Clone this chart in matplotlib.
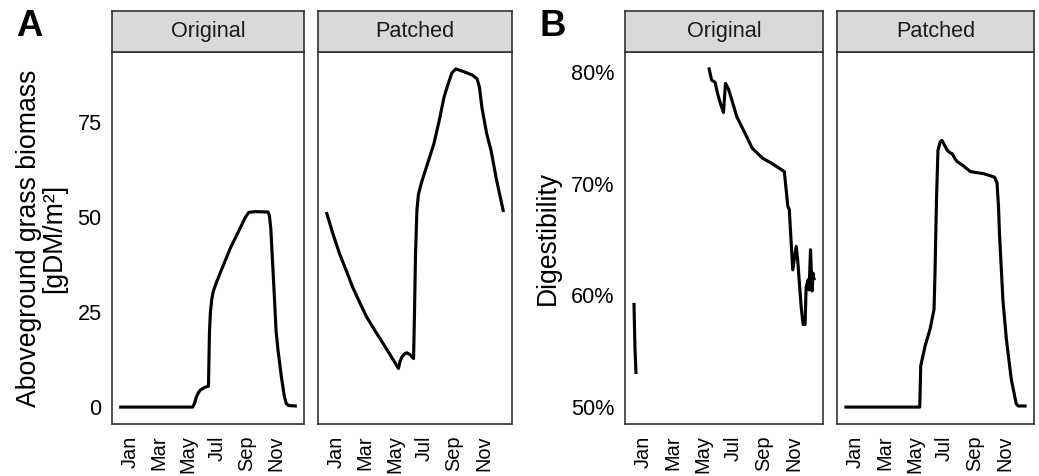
import numpy as np
import matplotlib
matplotlib.use("Agg")
from matplotlib import pyplot as plt

plt.rcParams['font.family'] = ['Liberation Sans', 'DejaVu Sans']

# day of year (0 = Jan 1) and values
biomass_orig_doy = [0, 150, 154, 157, 162, 166, 175, 183, 185, 187, 190, 193, 200, 208,
                    229, 250, 260, 267, 280, 307, 310, 313, 318, 324, 328, 335, 341, 345,
                    350, 364]
biomass_orig_val = [0, 0, 1, 2.4, 3.8, 4.5, 5.2, 5.5, 19.5, 25, 28.5, 30.5, 33, 35.5,
                    42, 47.4, 50, 51.3, 51.5, 51.4, 50.5, 47, 35, 20, 15, 8, 3, 1,
                    0.4, 0.3]

biomass_patch_doy = [0, 13, 26, 40, 53, 68, 82, 100, 116, 132, 148, 151, 155, 160, 165,
                     172, 179, 181, 183, 186, 189, 195, 200, 210, 221, 232, 242, 250,
                     258, 266, 280, 300, 310, 315, 320, 330, 339, 350, 364]
biomass_patch_val = [51, 45.5, 40.5, 36, 31.7, 27.5, 23.8, 20, 16.8, 13.5, 10.2, 12, 13.2,
                     14, 14.3, 13.8, 12.8, 25, 40, 52, 56, 59, 61, 65, 69.4, 75.5, 81.7,
                     85, 88, 89.1, 88.5, 87.5, 86.5, 84.3, 79, 72, 67.6, 60, 51.8]

digest_orig_doy = [0, 2, 4, 5, 152, 157, 164, 169, 174, 181, 185, 191, 198, 208, 226,
                   239, 260, 280, 304, 311, 314, 321, 328, 331, 338, 342, 346, 348, 352,
                   354, 357, 360, 362, 364]
digest_orig_val = [59.2, 55.2, 53.1, np.nan, 80.3, 79.3, 79.1, 78.1, 77.3, 76.4, 79.0,
                   78.5, 77.5, 76.0, 74.4, 73.2, 72.3, 71.8, 71.1, 68.0, 67.7, 62.3,
                   64.4, 63.2, 59.0, 57.4, 57.4, 60.7, 61.4, 60.5, 64.1, 60.4, 62.0, 61.5]

digest_patch_doy = [0, 150, 152, 161, 171, 179, 181, 184, 187, 191, 195, 200, 206, 211,
                    216, 221, 226, 236, 253, 281, 302, 307, 310, 312, 319, 326, 336, 346,
                    350, 364]
digest_patch_val = [50, 50, 53.7, 55.5, 57.0, 58.75, 62, 68.6, 73.0, 73.7, 73.9, 73.5,
                    73.0, 72.8, 72.7, 72.3, 72.0, 71.7, 71.1, 70.9, 70.6, 70.1, 68, 65.6,
                    59.6, 56.1, 52.5, 50.3, 50.1, 50.1]

month_doy = [0, 59, 120, 181, 243, 304]
month_labels = ['Jan', 'Mar', 'May', 'Jul', 'Sep', 'Nov']
facet_labels = ['Original', 'Patched']

W, H = 1039, 476
fig = plt.figure(figsize=(W / 150, H / 150), dpi=150)

PANEL_TOP, PANEL_BOTTOM, STRIP_TOP = 52, 424, 11
BORDER = '#333333'
SMALL = 10.4


def add_panel(left, right, doy, val, title, ylim, yticks, yticklabels, show_y):
    ax = fig.add_axes([left / W, 1 - PANEL_BOTTOM / H, (right - left) / W,
                       (PANEL_BOTTOM - PANEL_TOP) / H])
    ax.plot(doy, val, color='black', lw=1.5, solid_joinstyle='round')
    ax.set_xlim(-0.05 * 364, 364 * 1.05)
    ax.set_ylim(*ylim)
    ax.set_xticks(month_doy)
    ax.set_xticklabels(month_labels, rotation=90, ha='left', va='top', fontsize=9.6)
    ax.set_yticks(yticks)
    if show_y:
        ax.set_yticklabels(yticklabels, fontsize=SMALL)
    else:
        ax.set_yticklabels([])
    ax.tick_params(axis='x', length=0, pad=5.5)
    ax.tick_params(axis='y', length=0, pad=5)
    for sp in ax.spines.values():
        sp.set_color(BORDER)
        sp.set_linewidth(0.8)
    # facet strip
    sax = fig.add_axes([left / W, 1 - PANEL_TOP / H, (right - left) / W,
                        (PANEL_TOP - STRIP_TOP) / H])
    sax.set_facecolor('#D9D9D9')
    sax.set_xticks([])
    sax.set_yticks([])
    for sp in sax.spines.values():
        sp.set_color(BORDER)
        sp.set_linewidth(0.8)
    sax.text(0.5, 0.5, title, ha='center', va='center', fontsize=SMALL,
             color='#1A1A1A', transform=sax.transAxes)
    return ax


def padded(*series):
    vals = np.concatenate([np.asarray(s, dtype=float) for s in series])
    lo, hi = np.nanmin(vals), np.nanmax(vals)
    pad = 0.05 * (hi - lo)
    return lo - pad, hi + pad


ylim_a = padded(biomass_orig_val, biomass_patch_val)
ylim_b = padded(digest_orig_val, digest_patch_val)

a_ticks = [0, 25, 50, 75]
a_labels = ['0', '25', '50', '75']
b_ticks = [50, 60, 70, 80]
b_labels = ['50%', '60%', '70%', '80%']

add_panel(112, 304, biomass_orig_doy, biomass_orig_val, facet_labels[0],
          ylim_a, a_ticks, a_labels, True)
add_panel(318, 512, biomass_patch_doy, biomass_patch_val, facet_labels[1],
          ylim_a, a_ticks, a_labels, False)
add_panel(625, 823, digest_orig_doy, digest_orig_val, facet_labels[0],
          ylim_b, b_ticks, b_labels, True)
add_panel(837, 1034, digest_patch_doy, digest_patch_val, facet_labels[1],
          ylim_b, b_ticks, b_labels, False)

mid_y = 1 - (PANEL_TOP + PANEL_BOTTOM) / 2 / H
fig.text(42 / W, mid_y, 'Aboveground grass biomass\n[gDM/m²]', rotation=90,
         ha='center', va='center', fontsize=12.8, linespacing=0.95)
fig.text(548 / W, mid_y, 'Digestibility', rotation=90, ha='center', va='center',
         fontsize=12.8)

fig.text(16 / W, 1 - 26 / H, 'A', fontsize=17.5, fontweight='bold', ha='left', va='center')
fig.text(539 / W, 1 - 26 / H, 'B', fontsize=17.5, fontweight='bold', ha='left', va='center')

fig.savefig('out.png', dpi=150)
